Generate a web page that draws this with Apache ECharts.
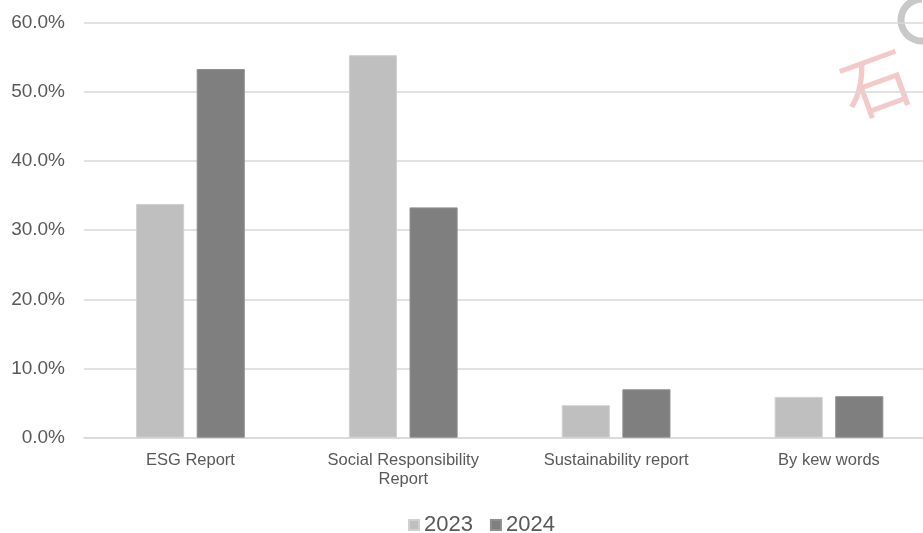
<!DOCTYPE html>
<html>
<head>
<meta charset="utf-8">
<script src="https://cdn.jsdelivr.net/npm/echarts@6/dist/echarts.min.js"></script>
<style>html,body{margin:0;padding:0;background:#fff;overflow:hidden}#c{width:923px;height:533px}</style>
</head>
<body>
<div id="c"></div>
<script>
const categories = ["ESG Report", "Social Responsibility\nReport", "Sustainability report", "By kew words"];
const seriesNames = ["2023", "2024"];
const values2023 = [33.8, 55.3, 4.7, 5.9];
const values2024 = [53.3, 33.3, 7.0, 6.0];
const yTicks = { min: 0, max: 60, interval: 10 };

const chart = echarts.init(document.getElementById('c'), null, { renderer: 'canvas' });
const font = '"Liberation Sans", Arial, sans-serif';
chart.setOption({
  animation: false,
  backgroundColor: '#ffffff',
  textStyle: { fontFamily: font },
  grid: { left: 84, width: 851.4, top: 22.7, height: 415, containLabel: false, outerBoundsMode: 'none' },
  legend: {
    data: seriesNames,
    top: 509,
    left: 403,
    itemWidth: 10, itemHeight: 10, itemGap: 17,
    icon: 'rect',
    textStyle: { fontSize: 22, color: '#595959', fontFamily: font }
  },
  xAxis: {
    type: 'category',
    data: categories,
    axisLine: { show: true, lineStyle: { color: '#d9d9d9', width: 1.5 } },
    axisTick: { show: false },
    axisLabel: { color: '#595959', fontSize: 16.5, margin: 13, lineHeight: 19, interval: 0, fontFamily: font }
  },
  yAxis: {
    type: 'value',
    min: yTicks.min, max: yTicks.max, interval: yTicks.interval,
    axisLine: { show: false },
    axisTick: { show: false },
    splitLine: { lineStyle: { color: '#d9d9d9', width: 1.5 } },
    axisLabel: { color: '#595959', fontSize: 19, margin: 19, fontFamily: font,
      formatter: v => v.toFixed(1) + '%' }
  },
  series: [
    { name: seriesNames[0], type: 'bar', data: values2023, barWidth: '22.6%', barGap: '26%',
      itemStyle: { color: '#bfbfbf', borderColor: '#d0d0d0', borderWidth: 1 } },
    { name: seriesNames[1], type: 'bar', data: values2024, barWidth: '22.6%', barGap: '26%',
      itemStyle: { color: '#7f7f7f', borderColor: '#8f8f8f', borderWidth: 1 } }
  ],
  graphic: [
    { type: 'text', left: 832, top: 40, rotation: 0.35,
      style: { text: '石', fontSize: 68, fill: 'rgba(225,120,120,0.4)', fontFamily: '"Noto Sans CJK SC"' } },
    { type: 'arc', shape: { cx: 922, cy: 20, r: 21, startAngle: Math.PI * 0.35, endAngle: Math.PI * 1.5 },
      style: { stroke: '#c8c8c8', lineWidth: 7, fill: null } }
  ]
});
</script>
</body>
</html>
